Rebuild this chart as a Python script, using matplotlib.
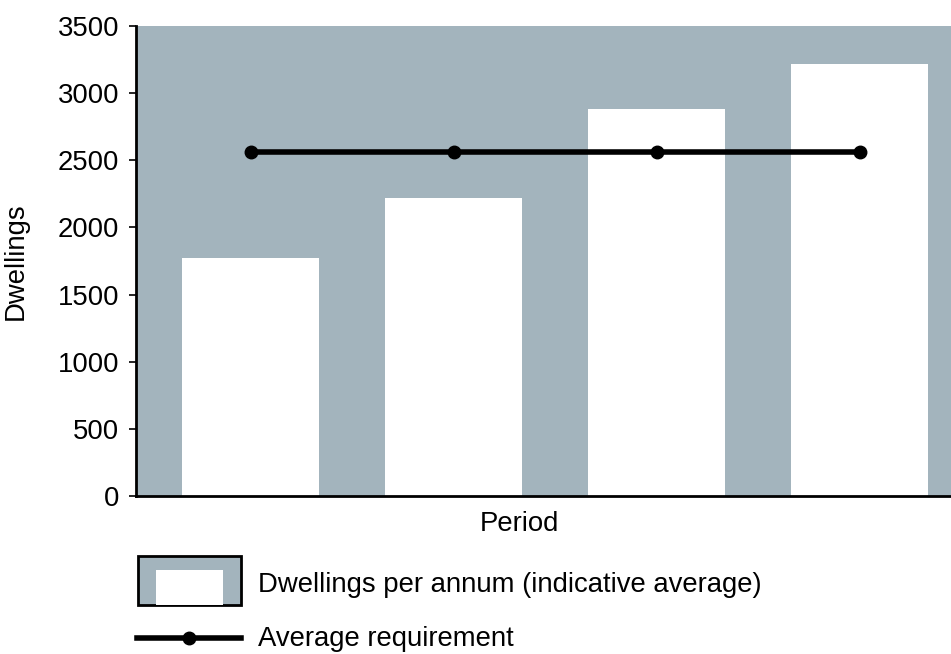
import matplotlib.pyplot as plt
from matplotlib.patches import Rectangle
from matplotlib.lines import Line2D

# Данные
periods = ['P1', 'P2', 'P3', 'P4']
dwellings = [1770, 2220, 2880, 3220]
requirement = [2565, 2565, 2565, 2565]

bg = '#a3b4bd'
fs = 19.8
plt.rcParams['font.family'] = ['Liberation Sans', 'DejaVu Sans']

fig = plt.figure(figsize=(9.51, 6.54), dpi=100)
W, H = 951, 654
ax = fig.add_axes([136 / W, 1 - 496 / H, (951 - 136) / W, (496 - 26) / H])
ax.set_facecolor(bg)

x = range(len(periods))
ax.bar(x, dwellings, width=0.675, color='white', zorder=2)
ax.plot(x, requirement, color='black', lw=4, marker='o', ms=9, zorder=3)

ax.set_xlim(-0.564, 3.45)
ax.set_ylim(0, 3500)
ax.set_yticks(range(0, 3501, 500))
ax.set_xticks([])
ax.tick_params(axis='y', labelsize=fs, length=5, width=1.2, pad=7)
for s in ['top', 'right']:
    ax.spines[s].set_visible(False)
for s in ['left', 'bottom']:
    ax.spines[s].set_linewidth(2)
ax.set_ylabel('Dwellings', fontsize=fs, labelpad=21)
ax.set_xlabel('Period', fontsize=fs)
ax.xaxis.set_label_coords(0.471, -0.032)

# Легенда вручную
def px(xp, yp):
    return xp / W, 1 - yp / H

fig.patches.append(Rectangle(px(138, 605), 103 / W, 49 / H, transform=fig.transFigure,
                             facecolor=bg, edgecolor='black', lw=2))
fig.patches.append(Rectangle(px(156, 605), 67 / W, 35 / H, transform=fig.transFigure,
                             facecolor='white', edgecolor='none'))
fig.lines.append(Line2D([137 / W, 241 / W], [1 - 638 / H] * 2, transform=fig.transFigure,
                        color='black', lw=4))
fig.lines.append(Line2D([189 / W], [1 - 638 / H], transform=fig.transFigure,
                        color='black', marker='o', ms=9))
fig.text(258 / W, 1 - 592 / H, 'Dwellings per annum (indicative average)', fontsize=fs, va='baseline')
fig.text(258 / W, 1 - 646 / H, 'Average requirement', fontsize=fs, va='baseline')

fig.savefig('out.png', dpi=100)
